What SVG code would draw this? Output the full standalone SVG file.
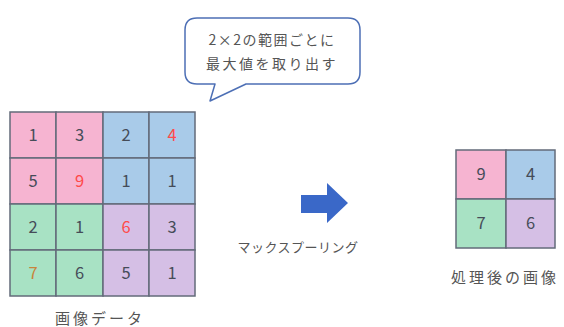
<svg xmlns="http://www.w3.org/2000/svg" width="564" height="327" viewBox="0 0 564 327">
<style>
text{font-family:"Noto Sans CJK JP","Noto Sans",sans-serif;}
.cell{stroke:#636b7a;stroke-width:1.5;}
.pk{fill:#f6b4d1;}
.bl{fill:#a9cbe9;}
.gr{fill:#a8e2c4;}
.pu{fill:#d5bfe5;}
.n{font-size:16.5px;fill:#454c58;text-anchor:middle;}
.r{fill:#ff4a4a;}
.o{fill:#c8843c;}
.lbl{fill:#555;text-anchor:middle;}
</style>
<rect width="564" height="327" fill="#ffffff"/>
<g id="input-grid">
<rect class="cell pk" x="10" y="112" width="46" height="46"/>
<rect class="cell pk" x="56" y="112" width="47" height="46"/>
<rect class="cell bl" x="103" y="112" width="46" height="46"/>
<rect class="cell bl" x="149" y="112" width="46" height="46"/>
<rect class="cell pk" x="10" y="158" width="46" height="46"/>
<rect class="cell pk" x="56" y="158" width="47" height="46"/>
<rect class="cell bl" x="103" y="158" width="46" height="46"/>
<rect class="cell bl" x="149" y="158" width="46" height="46"/>
<rect class="cell gr" x="10" y="204" width="46" height="46"/>
<rect class="cell gr" x="56" y="204" width="47" height="46"/>
<rect class="cell pu" x="103" y="204" width="46" height="46"/>
<rect class="cell pu" x="149" y="204" width="46" height="46"/>
<rect class="cell gr" x="10" y="250" width="46" height="46"/>
<rect class="cell gr" x="56" y="250" width="47" height="46"/>
<rect class="cell pu" x="103" y="250" width="46" height="46"/>
<rect class="cell pu" x="149" y="250" width="46" height="46"/>
<text class="n" x="33" y="141">1</text>
<text class="n" x="79.5" y="141">3</text>
<text class="n" x="126" y="141">2</text>
<text class="n r" x="172" y="141">4</text>
<text class="n" x="33" y="187">5</text>
<text class="n r" x="79.5" y="187">9</text>
<text class="n" x="126" y="187">1</text>
<text class="n" x="172" y="187">1</text>
<text class="n" x="33" y="233">2</text>
<text class="n" x="79.5" y="233">1</text>
<text class="n r" x="126" y="233">6</text>
<text class="n" x="172" y="233">3</text>
<text class="n o" x="33" y="279">7</text>
<text class="n" x="79.5" y="279">6</text>
<text class="n" x="126" y="279">5</text>
<text class="n" x="172" y="279">1</text>
<text class="lbl" x="100" y="324" font-size="15" letter-spacing="3">画像データ</text>
</g>
<g id="bubble">
<path d="M197,18 H348 Q360,18 360,30 V72 Q360,84 348,84 H246 L210,101 L215,84 H197 Q185,84 185,72 V30 Q185,18 197,18 Z" fill="#ffffff" stroke="#4d6fb5" stroke-width="1.5" stroke-linejoin="round"/>
<text class="lbl" x="272" y="45" font-size="14" letter-spacing="1.5">2×2の範囲ごとに</text>
<text class="lbl" x="272" y="69" font-size="14" letter-spacing="2.5">最大値を取り出す</text>
</g>
<g id="connectors">
<path id="arrow" d="M301,195 H327 V183 L348,203 L327,223 V213 H301 Z" fill="#3a68c8"/>
<text class="lbl" x="298" y="252" font-size="13" letter-spacing="0.5">マックスプーリング</text>
</g>
<g id="output-grid">
<rect class="cell pk" x="456" y="150" width="50" height="49"/>
<rect class="cell bl" x="506" y="150" width="49" height="49"/>
<rect class="cell gr" x="456" y="199" width="50" height="49"/>
<rect class="cell pu" x="506" y="199" width="49" height="49"/>
<text class="n" x="481" y="180">9</text>
<text class="n" x="530.5" y="180">4</text>
<text class="n" x="481" y="229">7</text>
<text class="n" x="530.5" y="229">6</text>
<text class="lbl" x="505" y="283" font-size="15" letter-spacing="3">処理後の画像</text>
</g>
</svg>
